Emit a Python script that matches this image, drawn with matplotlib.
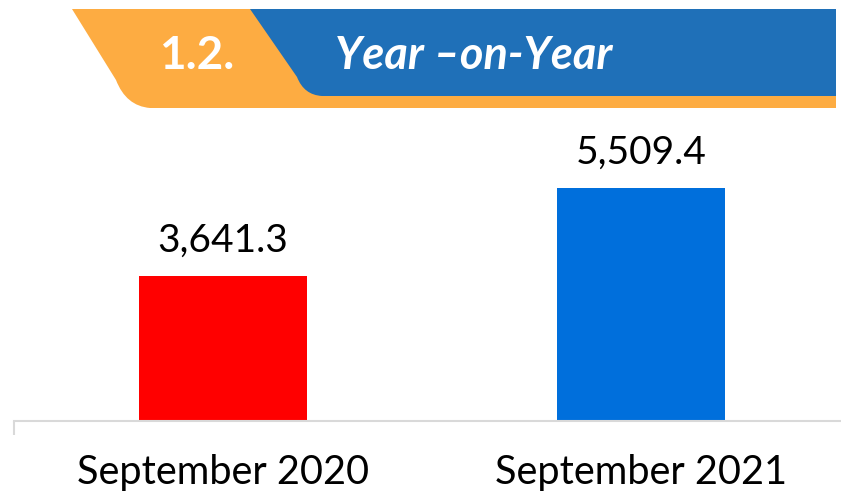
import matplotlib
matplotlib.use("Agg")
import matplotlib.pyplot as plt
from matplotlib.path import Path
from matplotlib.patches import PathPatch

# data
categories = ["September 2020", "September 2021"]
values = [3641.3, 5509.4]
bar_colors = ["#FF0000", "#006FDC"]

W, H = 841, 497
plt.rcParams["font.family"] = ["Lato", "DejaVu Sans"]

fig = plt.figure(figsize=(W / 100, H / 100), dpi=100)


def px(x, y):
    # pixel coords (origin top-left) -> figure fraction
    return (x / W, 1 - y / H)


def header_shape(points, codes, color):
    verts = [px(x, y) for x, y in points]
    patch = PathPatch(Path(verts, codes), transform=fig.transFigure,
                      facecolor=color, edgecolor="none", zorder=1)
    fig.add_artist(patch)


L, C, M, Z = Path.LINETO, Path.CURVE3, Path.MOVETO, Path.CLOSEPOLY

# orange band
header_shape(
    [(72, 9), (836, 9), (836, 108), (150, 108), (126, 106), (116, 80), (72, 9), (72, 9)],
    [M, L, L, L, C, C, L, Z],
    "#FDAC42",
)
# blue band
header_shape(
    [(250, 9), (836, 9), (836, 96), (322, 96), (304, 95), (297, 77), (250, 9), (250, 9)],
    [M, L, L, L, C, C, L, Z],
    "#1F70B8",
)

fig.text(197 / W, 1 - 56 / H, "1.2.", color="white", fontsize=33,
         fontweight="bold", ha="center", va="center")
fig.text(335 / W, 1 - 56 / H, "Year \u2013on-Year", color="white", fontsize=32.5,
         fontweight="bold", fontstyle="italic", ha="left", va="center")

# chart area
ax = fig.add_axes([14 / W, (H - 421) / H, 1 - 14 / W, (421 - 120) / H])
x = list(range(len(categories)))
bars = ax.bar(x, values, width=0.402, color=bar_colors, zorder=2)
ax.bar_label(bars, labels=[f"{v:,.1f}" for v in values], padding=12,
             fontsize=28, color="black")

ax.set_xlim(-0.5, 1.478)
ax.set_ylim(560, 6950)
ax.set_yticks([])
ax.set_xticks(x)
ax.set_xticklabels(categories, fontsize=28.5)
ax.tick_params(axis="x", length=0, pad=24)
ax.set_xticks([-0.5], minor=True)
ax.tick_params(axis="x", which="minor", length=10, width=1.5, color="#D9D9D9")

for side in ["left", "right", "top"]:
    ax.spines[side].set_visible(False)
ax.spines["bottom"].set_color("#D9D9D9")
ax.spines["bottom"].set_linewidth(1.5)
ax.patch.set_alpha(0)

fig.savefig("out.png", dpi=100)
